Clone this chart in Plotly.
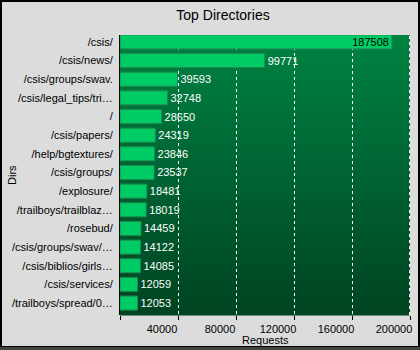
import plotly.graph_objects as go

# Top directories by number of requests
dirs = [
    "/csis/", "/csis/news/", "/csis/groups/swav.", "/csis/legal_tips/tri…", "/",
    "/csis/papers/", "/help/bgtextures/", "/csis/groups/", "/explosure/",
    "/trailboys/trailblaz…", "/rosebud/", "/csis/groups/swav/…",
    "/csis/biblios/girls…", "/csis/services/", "/trailboys/spread/0…",
]
requests = [187508, 99771, 39593, 32748, 28650, 24319, 23846, 23537, 18481,
            18019, 14459, 14122, 14085, 12059, 12053]
x_ticks = [0, 40000, 80000, 120000, 160000, 200000]
x_tick_labels = ["", "40000", "80000", "120000", "160000", "200000"]

W, H = 420, 350
ML, MR, MT, MB = 120, 10, 35, 35
PW, PH = W - ML - MR, H - MT - MB

FONT = "Liberation Sans"

# label inside the longest bar, outside for the rest
positions = ["inside"] + ["outside"] * (len(requests) - 1)
text_colors = ["black"] + ["white"] * (len(requests) - 1)

fig = go.Figure(go.Bar(
    x=requests,
    y=list(range(len(dirs))),
    orientation="h",
    width=0.75,
    marker=dict(color="#00cc66", line=dict(color="#1f8a4c", width=1)),
    text=[str(v) for v in requests],
    textposition=positions,
    insidetextanchor="end",
    textfont=dict(family=FONT, size=11, color=text_colors),
    outsidetextfont=dict(family=FONT, size=11, color="white"),
    insidetextfont=dict(family=FONT, size=11, color="black"),
    cliponaxis=False,
))

# vertical gradient behind the bars
shapes = []
n_bands = 70
top, bot = (0, 130, 66), (0, 68, 34)
for i in range(n_bands):
    t = i / (n_bands - 1)
    c = tuple(round(top[k] + (bot[k] - top[k]) * t) for k in range(3))
    y1 = 1 - i / n_bands
    y0 = 1 - (i + 1) / n_bands
    shapes.append(dict(type="rect", xref="paper", yref="paper",
                       x0=0, x1=1, y0=y0 - 0.002, y1=y1,
                       fillcolor="rgb(%d,%d,%d)" % c, line=dict(width=0),
                       layer="below"))

# dotted grid line along the right edge
shapes.append(dict(type="line", xref="paper", yref="paper",
                   x0=1 - 0.5 / PW, x1=1 - 0.5 / PW, y0=0, y1=1,
                   line=dict(color="white", width=1, dash="dot"), layer="below"))

# window frame around the whole figure
fx0, fx1 = -ML / PW, (W - ML) / PW
fy0, fy1 = -MB / PH, 1 + MT / PH
px = 1 / PW
py = 1 / PH
shapes.append(dict(type="rect", xref="paper", yref="paper",
                   x0=fx0 + px, x1=fx1 - px, y0=fy0 + 3 * py, y1=fy1 - py,
                   line=dict(color="black", width=2), fillcolor="rgba(0,0,0,0)",
                   layer="above"))
shapes.append(dict(type="rect", xref="paper", yref="paper",
                   x0=fx0, x1=fx1, y0=fy0, y1=fy0 + 3 * py,
                   line=dict(width=0), fillcolor="#444444", layer="above"))

annotations = [
    dict(text="Requests", xref="paper", yref="paper",
         x=(265 - ML) / PW, y=-(340 - MT - PH) / PH,
         xanchor="center", yanchor="middle", showarrow=False,
         font=dict(family=FONT, size=11, color="black")),
    dict(text="Dirs", xref="paper", yref="paper",
         x=-(ML - 12) / PW, y=1 - (175 - MT) / PH, textangle=-90,
         xanchor="center", yanchor="middle", showarrow=False,
         font=dict(family=FONT, size=11, color="black")),
]

fig.update_layout(
    width=W, height=H,
    margin=dict(l=ML, r=MR, t=MT, b=MB),
    paper_bgcolor="#dcdcdc",
    plot_bgcolor="#006633",
    showlegend=False,
    uniformtext=dict(minsize=11, mode="show"),
    font=dict(family=FONT, size=11, color="black"),
    title=dict(text="Top Directories", x=223 / W, xanchor="center",
               y=1 - 15 / H, yanchor="middle",
               font=dict(family=FONT, size=14, color="black")),
    shapes=shapes,
    annotations=annotations,
    xaxis=dict(
        range=[0, 200000], automargin=False,
        tickvals=x_ticks, ticktext=x_tick_labels,
        ticks="outside", ticklen=4, tickcolor="black", tickwidth=1,
        ticklabelshift=-16,
        tickfont=dict(family=FONT, size=11, color="black"),
        showgrid=True, gridcolor="white", griddash="dot", gridwidth=1,
        zeroline=False, showline=False,
    ),
    yaxis=dict(
        range=[14.64, -0.37], automargin=False,
        tickvals=list(range(len(dirs))), ticktext=dirs,
        ticks="", showgrid=False, zeroline=False,
        showline=True, linecolor="black", linewidth=1,
        ticklabelstandoff=4,
        tickfont=dict(family=FONT, size=11, color="black"),
    ),
)

fig.write_html("out.html")
